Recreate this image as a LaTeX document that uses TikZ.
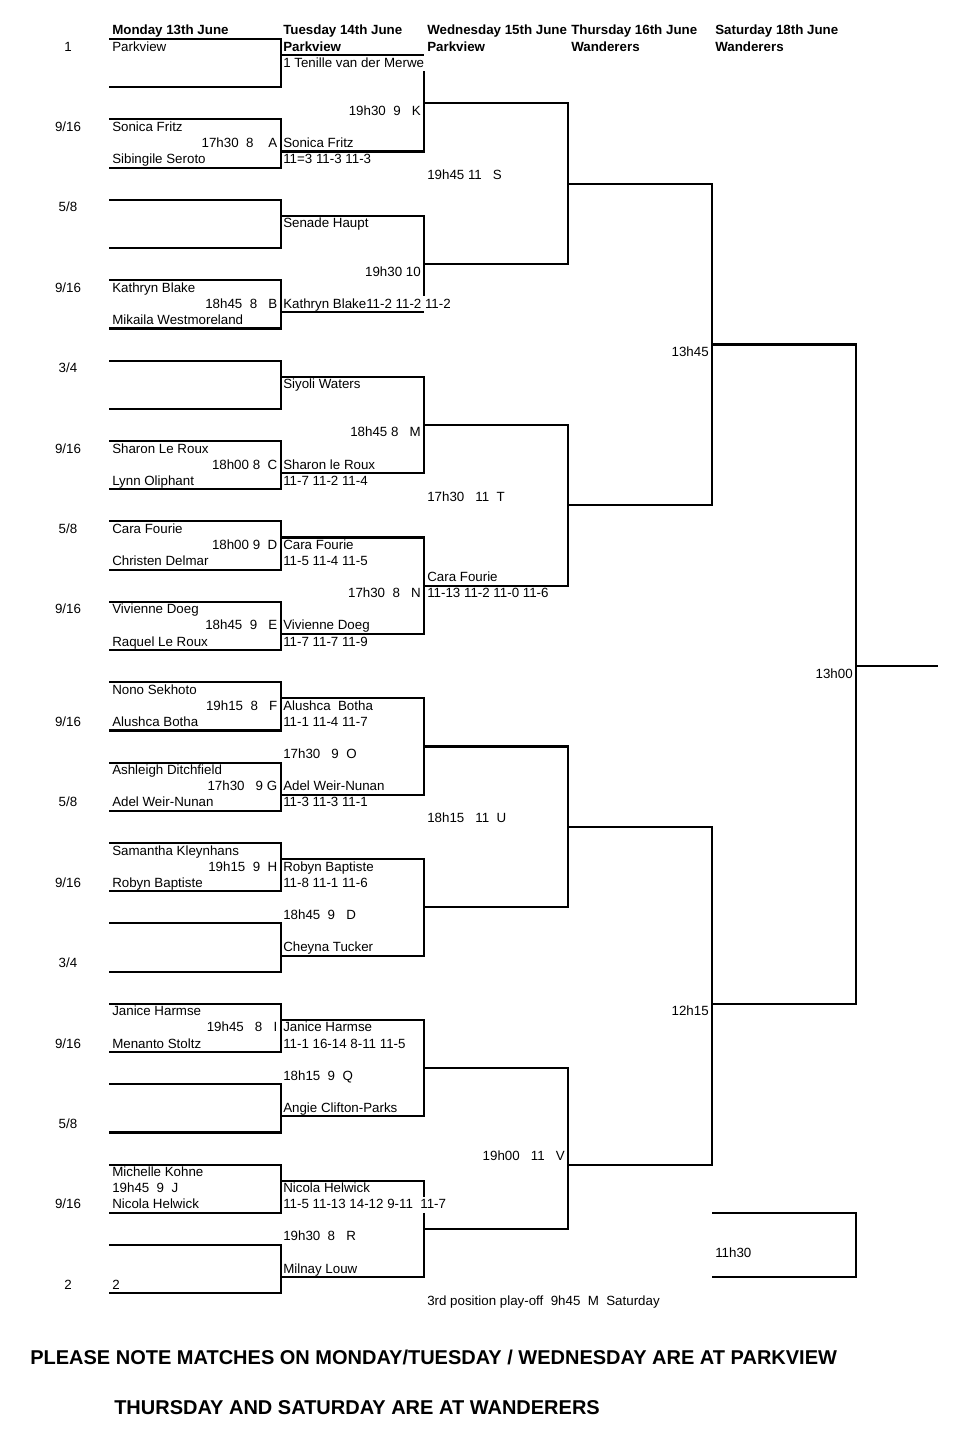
\documentclass[tikz,border=0pt]{standalone}
\usepackage{fontspec}
\setmainfont{Liberation Sans}
\tikzset{
	line/.style={line width=1.6pt},
	entry/.style={anchor=base west, inner sep=0pt},
	time/.style={anchor=base east, inner sep=0pt},
	seed/.style={anchor=base, inner sep=0pt},
	head/.style={anchor=base west, inner sep=0pt, font=\bfseries},
	note/.style={anchor=base west, inner sep=0pt, font=\fontsize{15}{18}\selectfont\bfseries}
}
\begin{document}
\begin{tikzpicture}[x=0.75pt, y=-12.06pt]
	\path[use as bounding box] (0pt,0pt) rectangle (716.25pt,-1085.25pt);
	\begin{scope}[yshift=-29.25pt]
		% headers
		\foreach \x/\t [count=\i] in {112/Monday 13th June, 283/Tuesday 14th June, 427/Wednesday 15th June, 571/Thursday 16th June, 715/Saturday 18th June}
			\node[head] (day\i) at (\x,-0.25) {\t};
		\node[entry] (venue1) at (112,0.75) {Parkview};
		\foreach \x/\t [count=\i from 2] in {283/Parkview, 427/Parkview, 571/Wanderers, 715/Wanderers}
			\node[head] (venue\i) at (\x,0.75) {\t};

		% bracket lines
		\foreach \k in {0,...,15}
			\draw[line] (109,5*\k) -- (281,5*\k) -- (281,5*\k+3) -- (109,5*\k+3);
		\draw[line] (281,1) -- (424,1);
		\draw[line] (424,2) -- (424,7) -- (281,7);
		\draw[line] (281,11) -- (424,11) -- (424,16);
		\draw[line] (281,17) -- (424,17);
		\foreach \b in {21,31,41,51,61}
			\draw[line] (281,\b) -- (424,\b) -- (424,\b+6) -- (281,\b+6);
		\draw[line] (281,71) -- (424,71) -- (424,72);
		\draw[line] (424,73) -- (424,77) -- (281,77);
		\foreach \b in {4,24,44,64}
			\draw[line] (424,\b) -- (568,\b) -- (568,\b+10) -- (424,\b+10);
		\draw[line] (568,9) -- (712,9) -- (712,29) -- (568,29);
		\draw[line] (568,49) -- (712,49) -- (712,70) -- (568,70);
		\draw[line] (712,19) -- (856,19) -- (856,60) -- (712,60);
		\draw[line] (856,39) -- (938,39);
		\draw[line] (712,73) -- (856,73) -- (856,77) -- (712,77);

		% seeds
		\foreach \r/\t [count=\i] in {0/1, 5/{9/16}, 10/{5/8}, 15/{9/16}, 20/{3/4}, 25/{9/16}, 30/{5/8}, 35/{9/16}, 42/{9/16}, 47/{5/8}, 52/{9/16}, 57/{3/4}, 62/{9/16}, 67/{5/8}, 72/{9/16}, 77/2}
			\node[seed] (seed\i) at (68,\r+0.75) {\t};

		% monday
		\foreach \r/\t [count=\i] in {5/Sonica Fritz, 7/Sibingile Seroto, 15/Kathryn Blake, 17/Mikaila Westmoreland, 25/Sharon Le Roux, 27/Lynn Oliphant, 30/Cara Fourie, 32/Christen Delmar, 35/Vivienne Doeg, 37/Raquel Le Roux, 40/Nono Sekhoto, 42/Alushca Botha, 45/Ashleigh Ditchfield, 47/Adel Weir-Nunan, 50/Samantha Kleynhans, 52/Robyn Baptiste, 60/Janice Harmse, 62/Menanto Stoltz, 70/Michelle Kohne, 71/{19h45~~9~~J}, 72/Nicola Helwick, 77/2}
			\node[entry] (mon\i) at (112,\r+0.75) {\t};
		\foreach \r/\t [count=\i] in {6/{17h30~~8~~~~A}, 16/{18h45~~8~~~B}, 26/{18h00 8~~C}, 31/{18h00 9~~D}, 36/{18h45~~9~~~E}, 41/{19h15~~8~~~F}, 46/{17h30~~~9 G}, 51/{19h15~~9~~H}, 61/{19h45~~~8~~~I}}
			\node[time] (montime\i) at (277.5,\r+0.75) {\t};

		% tuesday
		\foreach \r/\t [count=\i] in {1/{1 Tenille van der Merwe}, 6/Sonica Fritz, 7/{11=3 11-3 11-3}, 11/Senade Haupt, 16/{Kathryn Blake11-2 11-2 11-2}, 21/Siyoli Waters, 26/Sharon le Roux, 27/{11-7 11-2 11-4}, 31/Cara Fourie, 32/{11-5 11-4 11-5}, 36/Vivienne Doeg, 37/{11-7 11-7 11-9}, 41/{Alushca~~Botha}, 42/{11-1 11-4 11-7}, 44/{17h30~~~9~~O}, 46/Adel Weir-Nunan, 47/{11-3 11-3 11-1}, 51/Robyn Baptiste, 52/{11-8 11-1 11-6}, 54/{18h45~~9~~~D}, 56/Cheyna Tucker, 61/Janice Harmse, 62/{11-1 16-14 8-11 11-5}, 64/{18h15~~9~~Q}, 66/Angie Clifton-Parks, 71/Nicola Helwick, 72/{11-5 11-13 14-12 9-11~~11-7}, 74/{19h30~~8~~~R}, 76/Milnay Louw}
			\node[entry] (tue\i) at (283,\r+0.75) {\t};
		\foreach \r/\t [count=\i] in {4/{19h30~~9~~~K}, 14/{19h30 10}, 24/{18h45 8~~~M}, 34/{17h30~~8~~~N}}
			\node[time] (tuetime\i) at (421,\r+0.75) {\t};

		% wednesday
		\foreach \r/\t [count=\i] in {8/{19h45 11~~~S}, 28/{17h30~~~11~~T}, 33/Cara Fourie, 34/{11-13 11-2 11-0 11-6}, 48/{18h15~~~11~~U}, 78/{3rd position play-off~~9h45~~M~~Saturday}}
			\node[entry] (wed\i) at (427,\r+0.75) {\t};
		\node[time] (wedtime) at (565,69.75) {19h00~~~11~~~V};

		% thursday and saturday
		\node[time] (thu1) at (709,19.75) {13h45};
		\node[time] (thu2) at (709,60.75) {12h15};
		\node[time] (sat1) at (853,39.75) {13h00};
		\node[entry] (sat2) at (715,75.75) {11h30};

		\node[note] (note1) at (30,82.4) {PLEASE NOTE MATCHES ON MONDAY/TUESDAY / WEDNESDAY ARE AT PARKVIEW};
		\node[note] (note2) at (114,85.51) {THURSDAY AND SATURDAY ARE AT WANDERERS};
	\end{scope}
\end{tikzpicture}
\end{document}
